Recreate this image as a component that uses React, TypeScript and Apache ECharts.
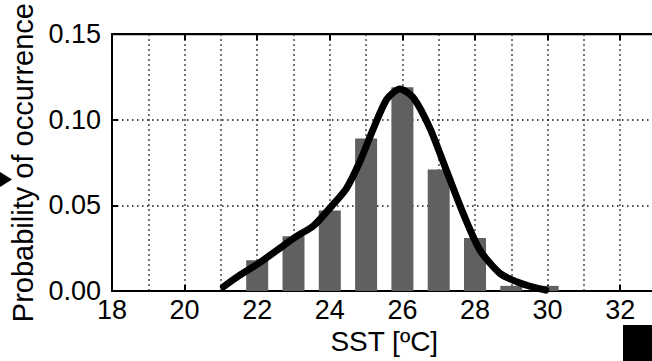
import React, { useEffect, useRef } from "react";
import * as echarts from "echarts";

const barSst = [22, 23, 24, 25, 26, 27, 28, 29, 30];
const barProb = [0.018, 0.032, 0.047, 0.089, 0.119, 0.071, 0.031, 0.003, 0.003];

const curveSst = [21.07, 21.5, 22.03, 22.54, 23.09, 23.55, 24.05, 24.46, 24.83, 25.2, 25.57, 25.93, 26.3, 26.76, 27.22, 27.68, 28.14, 28.69, 29.15, 29.6, 29.95];
const curveProb = [0.0025, 0.009, 0.016, 0.0237, 0.032, 0.038, 0.0496, 0.06, 0.0756, 0.0948, 0.112, 0.118, 0.113, 0.095, 0.07, 0.045, 0.0237, 0.0102, 0.0054, 0.0022, 0.0005];

const xTitle = "SST [ºC]";
const yTitle = "Probability of occurrence";

const FONT = "'Liberation Sans', Arial, Helvetica, sans-serif";

export default function App() {
  const ref = useRef<HTMLDivElement>(null);
  useEffect(() => {
    if (!ref.current) return;
    const chart = echarts.init(ref.current, null, { renderer: "svg" });
    const dotted = { color: "#111", width: 1.5, type: [1.5, 3.5] as any };
    chart.setOption({
      animation: false,
      backgroundColor: "#fff",
      grid: { left: 112, right: 23.5, top: 31, bottom: 70, show: true, borderColor: "#000", borderWidth: 2 },
      xAxis: [
        {
          type: "value",
          min: 18,
          max: 33,
          interval: 2,
          name: xTitle,
          nameLocation: "middle",
          nameGap: 34,
          nameTextStyle: { color: "#000", fontSize: 28, fontFamily: FONT },
          axisLine: { show: true, lineStyle: { color: "#000", width: 2 } },
          axisTick: { show: true, inside: true, length: 6, lineStyle: { color: "#000", width: 2 } },
          axisLabel: {
            color: "#000",
            fontSize: 27,
            fontFamily: FONT,
            margin: 5,
            formatter: (v: number) => (v % 2 === 0 ? String(v) : ""),
          },
          splitLine: { show: true, lineStyle: dotted },
          minorTick: { show: false, splitNumber: 2 },
          minorSplitLine: { show: true, lineStyle: dotted },
        },
        {
          type: "value",
          position: "top",
          min: 18,
          max: 33,
          interval: 2,
          axisLine: { show: true, lineStyle: { color: "#000", width: 2 } },
          axisTick: { show: true, inside: true, length: 6, lineStyle: { color: "#000", width: 2 } },
          axisLabel: { show: false },
          splitLine: { show: false },
        },
      ],
      yAxis: {
        type: "value",
        min: 0,
        max: 0.15,
        interval: 0.05,
        name: yTitle,
        nameLocation: "middle",
        nameRotate: 90,
        nameGap: 72,
        nameTextStyle: { color: "#000", fontSize: 29, fontFamily: FONT },
        axisLine: { show: true, lineStyle: { color: "#000", width: 2 } },
        axisTick: { show: true, inside: true, length: 6, lineStyle: { color: "#000", width: 2 } },
        axisLabel: {
          color: "#000",
          fontSize: 27,
          fontFamily: FONT,
          margin: 11,
          formatter: (v: number) => v.toFixed(2),
        },
        splitLine: { show: true, lineStyle: dotted },
      },
      series: [
        {
          type: "bar",
          xAxisIndex: 0,
          barWidth: 22,
          itemStyle: { color: "#606060" },
          data: barSst.map((s, i) => [s, barProb[i]]),
        },
        {
          type: "line",
          xAxisIndex: 0,
          smooth: 0.25,
          showSymbol: false,
          lineStyle: { color: "#000", width: 7, cap: "round", join: "round" },
          data: curveSst.map((s, i) => [s, curveProb[i]]),
        },
      ],
      graphic: [
        { type: "polygon", shape: { points: [[0, 172], [12, 179.5], [0, 187]] }, style: { fill: "#000" } },
        { type: "rect", shape: { x: 623, y: 325, width: 40, height: 40 }, style: { fill: "#000" } },
      ],
    });
    return () => chart.dispose();
  }, []);
  return (
    <div
      ref={ref}
      style={{ position: "fixed", left: 0, top: 0, width: 680, height: 361, background: "#fff" }}
    />
  );
}
